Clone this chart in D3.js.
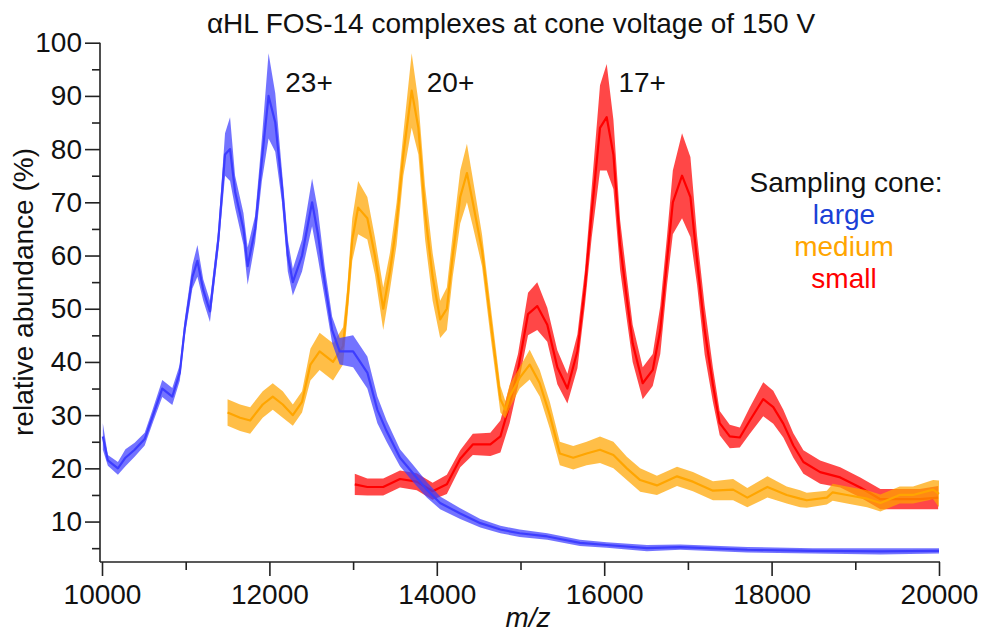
<!DOCTYPE html>
<html>
<head>
<meta charset="utf-8">
<script src="https://cdn.jsdelivr.net/npm/d3@7/dist/d3.min.js"></script>
<style>
  body { margin: 0; background: #fff; }
  svg text { font-family: "Liberation Sans", Arial, sans-serif; fill: #111; }
</style>
</head>
<body>
<svg width="984" height="633"></svg>
<script>
// large cone (blue)
var mzLarge = [10010, 10070, 10190, 10280, 10390, 10510, 10610, 10720, 10840, 10930,
  10990, 11080, 11140, 11210, 11290, 11390, 11470, 11530, 11590, 11690,
  11740, 11830, 11910, 11990, 12070, 12150, 12220, 12280, 12390, 12510,
  12580, 12660, 12750, 12840, 13000, 13170, 13290, 13400, 13560, 13720,
  13880, 14040, 14280, 14520, 14760, 14990, 15320, 15710, 16030, 16510,
  16910, 17710, 18490, 19300, 20000];
var abLarge = [26, 21.5, 20, 22, 23.5, 25.5, 30, 35, 33.5, 38,
  46.5, 56, 59, 53.5, 49.5, 63, 79, 80, 72, 65,
  58, 65, 78, 90, 85, 73, 60, 55, 60, 70,
  64, 55, 46, 42, 42, 38, 31, 27, 22, 19,
  16, 13.5, 11.5, 9.7, 8.5, 7.8, 7.2, 6.0, 5.6, 5.0,
  5.2, 4.7, 4.5, 4.4, 4.5];
var noiseLarge = [2.5, 1, 1.2, 1.6, 1.3, 1.2, 1.3, 1.6, 1.6, 1.5,
  1.6, 2.2, 3, 2, 2, 2, 4, 6, 3, 3,
  3.5, 2.5, 4, 8, 5.5, 3, 3, 2.5, 3, 4.5,
  4.5, 3, 2.5, 2.5, 3, 3, 2.5, 2, 1.6, 1.6,
  1.5, 1.2, 1, 0.8, 0.7, 0.7, 0.6, 0.6, 0.5, 0.6,
  0.5, 0.5, 0.5, 0.6, 0.5];

// medium cone (orange)
var mzMedium = [11500, 11650, 11770, 11920, 12040, 12160, 12280, 12390, 12490, 12600,
  12760, 12880, 12930, 12990, 13060, 13170, 13260, 13360, 13440, 13520,
  13600, 13700, 13780, 13860, 13950, 14040, 14120, 14190, 14280, 14360,
  14430, 14540, 14640, 14760, 14820, 14870, 14990, 15110, 15230, 15350,
  15470, 15630, 15790, 15950, 16110, 16270, 16430, 16630, 16870, 17060,
  17300, 17540, 17710, 17950, 18180, 18340, 18420, 18660, 18730, 18900,
  19140, 19300, 19530, 19690, 19930, 20000];
var abMedium = [30.5, 29.5, 29, 32, 33.5, 32, 30, 32.5, 39.5, 42,
  40, 43, 51, 63, 69, 67, 60, 50, 57, 66,
  79, 91, 84, 68, 56, 48, 50, 60, 71, 75.5,
  70, 61, 48, 33, 31, 33.5, 37, 39.5, 36, 30,
  22.8, 22, 22.8, 23.5, 22.5, 20, 17.8, 16.8, 18.5, 17.5,
  15.8, 16, 14.5, 16.5, 15, 14.3, 14, 14.5, 15.5, 15,
  14.3, 13.5, 15, 15, 16, 15.2];
var noiseMedium = [2.5, 2.5, 2.5, 2.5, 2.5, 2.5, 2, 2, 3, 3.5,
  3.5, 3.5, 3, 4, 5, 4, 3.5, 4, 3.5, 4,
  4, 7, 5, 5, 4.5, 3.5, 4, 4, 5, 5.5,
  4.5, 3, 3, 2.5, 1.6, 2.2, 2, 2.8, 2.5, 2.5,
  2.2, 2.2, 2.2, 2.5, 2.5, 2.2, 2.2, 1.8, 1.8, 1.8,
  1.8, 2, 1.8, 2, 1.6, 1.6, 1.4, 1.3, 1.6, 1.6,
  1.6, 1.6, 1.6, 1.6, 1.8, 2.5];

// small cone (red)
var mzSmall = [13020, 13170, 13360, 13560, 13760, 13950, 14120, 14280, 14430, 14640,
  14760, 14870, 14970, 15090, 15200, 15320, 15440, 15560, 15680, 15770,
  15850, 15950, 16030, 16110, 16190, 16270, 16340, 16460, 16580, 16670,
  16750, 16820, 16930, 17030, 17110, 17200, 17300, 17380, 17500, 17620,
  17740, 17900, 18020, 18140, 18260, 18380, 18580, 18820, 19060, 19300,
  19530, 19770, 19990];
var abSmall = [17, 16.5, 16.5, 18, 17.5, 15.7, 17, 21.8, 24.5, 24.5,
  26, 32, 38.5, 49, 50.5, 47, 39, 35, 42, 54,
  68, 84, 86, 79, 62, 52, 43.5, 36, 38.5, 46,
  59, 70, 75, 71, 59, 46, 35.6, 28.5, 26, 25.8,
  29, 33, 31.5, 28.4, 24.3, 21.2, 19.3, 18.3, 16.4, 14.2,
  14.2, 14.2, 14.5];
var noiseSmall = [2, 1.6, 1.6, 1.6, 1.6, 1.6, 1.8, 1.6, 2, 2.2,
  3, 3.5, 3, 4, 4.5, 3.2, 3.2, 2.8, 3.2, 3.3,
  4.7, 8, 10, 6.5, 4.7, 4, 3.5, 3, 3, 4.5,
  4.6, 6, 8, 7.5, 4.6, 4.6, 3.2, 2.3, 2.2, 1.9,
  2.5, 3.2, 3.1, 2.6, 2.3, 2.2, 2.2, 1.9, 1.9, 1.9,
  1.9, 1.9, 2.2];

var xTicks = [10000, 12000, 14000, 16000, 18000, 20000];
var xMinorTicks = [11000, 13000, 15000, 17000, 19000];
var yTicks = [10, 20, 30, 40, 50, 60, 70, 80, 90, 100];
var yMinorTicks = [5, 15, 25, 35, 45, 55, 65, 75, 85, 95];

var peakLabels = ["23+", "20+", "17+"];
var peakLabelMz = [12190, 13880, 16170];
var peakLabelAb = [90.7, 90.7, 90.7];

var legendNames = ["large", "medium", "small"];
var legendColors = ["#1a3fd6", "#ffa500", "#ff0000"];
var lineColors = ["#3d3dff", "#ffa500", "#ff0000"];

function draw()
{
  var svg = d3.select("svg");
  svg.selectAll("*").remove();

  var x = d3.scaleLinear().domain([10000, 20000]).range([102, 939]);
  var y = d3.scaleLinear().domain([2.4, 100]).range([562, 42.7]);

  function drawSeries(mz, ab, noise, color)
  {
    var pts = mz.map(function(m, i) { return {mz: m, ab: ab[i], n: noise[i]}; });
    var band = d3.area()
      .x(d => x(d.mz))
      .y0(d => y(d.ab - d.n))
      .y1(d => y(d.ab + d.n));
    var mid = d3.line()
      .x(d => x(d.mz))
      .y(d => y(d.ab));
    var g = svg.append("g");
    g.append("path").datum(pts)
      .attr("d", band)
      .style("fill", color)
      .style("opacity", 0.72);
    g.append("path").datum(pts)
      .attr("d", mid)
      .style("fill", "none")
      .style("stroke", color)
      .style("stroke-linejoin", "round")
      .style("stroke-width", 2.2);
  }

  drawSeries(mzSmall, abSmall, noiseSmall, lineColors[2]);
  drawSeries(mzMedium, abMedium, noiseMedium, lineColors[1]);
  drawSeries(mzLarge, abLarge, noiseLarge, lineColors[0]);

  // axes
  var axisColor = "#222";
  var yAxis = svg.append("g").attr("transform", "translate(100,0)")
    .call(d3.axisLeft(y).tickValues(yTicks).tickSize(15).tickPadding(3).tickSizeOuter(0));
  svg.append("g").attr("transform", "translate(100,0)")
    .call(d3.axisLeft(y).tickValues(yMinorTicks).tickSize(8).tickFormat("").tickSizeOuter(0))
    .select(".domain").remove();
  yAxis.select(".domain").remove();

  var xAxis = svg.append("g").attr("transform", "translate(0,562)")
    .call(d3.axisBottom(x).tickValues(xTicks).tickSize(14).tickPadding(8).tickFormat(d3.format("d")).tickSizeOuter(0));
  svg.append("g").attr("transform", "translate(0,562)")
    .call(d3.axisBottom(x).tickValues(xMinorTicks).tickSize(8).tickFormat("").tickSizeOuter(0))
    .select(".domain").remove();
  xAxis.select(".domain").remove();

  svg.append("line").attr("x1", 100).attr("x2", 100).attr("y1", y(100)).attr("y2", 562)
    .style("stroke", axisColor).style("stroke-width", 1.6);
  svg.append("line").attr("x1", 100).attr("x2", 940).attr("y1", 562).attr("y2", 562)
    .style("stroke", axisColor).style("stroke-width", 1.6);

  svg.selectAll(".tick line").style("stroke", axisColor).style("stroke-width", 1.6);
  svg.selectAll(".tick text")
    .style("font-family", "'Liberation Sans', Arial, sans-serif")
    .style("font-size", "28px")
    .style("fill", "#111");

  // titles
  svg.append("text").attr("x", 511).attr("y", 33).attr("text-anchor", "middle")
    .style("font-size", "28px").text("\u03b1HL FOS-14 complexes at cone voltage of 150 V");

  svg.append("text").attr("transform", "translate(33,292) rotate(-90)")
    .attr("text-anchor", "middle").style("font-size", "28px")
    .text("relative abundance (%)");

  svg.append("text").attr("x", 528).attr("y", 627).attr("text-anchor", "middle")
    .style("font-size", "28px").style("font-style", "italic").text("m/z");

  // charge state labels
  svg.selectAll("text.peak")
    .data(peakLabels)
    .enter()
    .append("text")
    .attr("class", "peak")
    .attr("x", (d, i) => x(peakLabelMz[i]))
    .attr("y", (d, i) => y(peakLabelAb[i]))
    .style("font-size", "28px")
    .text(d => d);

  // legend
  svg.append("text").attr("x", 846).attr("y", 192).attr("text-anchor", "middle")
    .style("font-size", "28px").text("Sampling cone:");
  svg.selectAll("text.legend")
    .data(legendNames)
    .enter()
    .append("text")
    .attr("class", "legend")
    .attr("x", 844)
    .attr("y", (d, i) => 224 + i * 32)
    .attr("text-anchor", "middle")
    .style("font-size", "28px")
    .style("fill", (d, i) => legendColors[i])
    .text(d => d);
}

draw();
</script>
</body>
</html>
